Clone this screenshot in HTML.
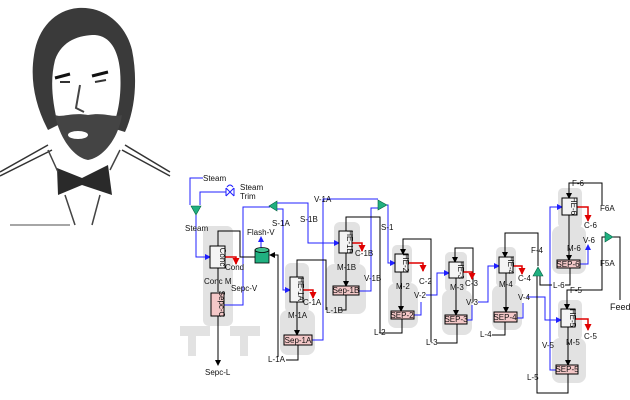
<!DOCTYPE html>
<html><head><meta charset="utf-8"><style>
html,body{margin:0;padding:0;background:#fff;}
svg{display:block;}
text{font-family:"Liberation Sans",sans-serif;font-size:8px;fill:#111;}
</style></head><body>
<svg width="630" height="400" viewBox="0 0 630 400" xmlns="http://www.w3.org/2000/svg">
<defs>
<marker id="ab" markerWidth="6" markerHeight="6" refX="5" refY="3" orient="auto" markerUnits="userSpaceOnUse"><path d="M0,0L6,3L0,6z" fill="#000"/></marker>
<marker id="au" markerWidth="6" markerHeight="6" refX="5" refY="3" orient="auto" markerUnits="userSpaceOnUse"><path d="M0,0L6,3L0,6z" fill="#2020ff"/></marker>
<marker id="ar" markerWidth="7" markerHeight="7" refX="6" refY="3.5" orient="auto" markerUnits="userSpaceOnUse"><path d="M0,0L7,3.5L0,7z" fill="#e00000"/></marker>
</defs>

<!-- Portrait -->
<g>
<path d="M0,172 L48,145 M0,176 L52,150 M170,172 L125,145 M170,176 L122,150" stroke="#333" stroke-width="1.5" fill="none"/>
<path d="M78,8 C55,10 38,28 34,55 C30,80 35,105 48,130 L58,125 C52,100 50,80 55,60 C62,40 80,35 95,35 C110,36 118,50 120,70 C122,95 118,115 112,128 L125,132 C135,110 138,80 132,50 C126,25 105,6 78,8z" fill="#3a3a3a"/>
<path d="M55,115 C60,140 75,158 88,160 C102,158 118,140 122,115 C112,118 105,112 88,115 C72,112 62,118 55,115z" fill="#444"/>
<ellipse cx="78" cy="135" rx="10" ry="4" fill="#fff"/>
<path d="M55,78 L70,74 M92,76 L108,72" stroke="#111" stroke-width="3"/>
<path d="M60,82 L70,82 M95,82 L106,80" stroke="#333" stroke-width="2"/>
<path d="M80,85 L76,108 L84,112" stroke="#444" stroke-width="2" fill="none"/>
<path d="M57,168 L82,178 L108,165 L112,195 L82,185 L58,195z" fill="#2a2a2a"/>
<path d="M48,150 L58,172 M120,150 L110,170 M65,195 L75,225 M100,195 L92,225" stroke="#444" stroke-width="1.5" fill="none"/>
<path d="M10,225 L70,225" stroke="#888" stroke-width="1.5"/>
</g>

<!-- gray silhouettes -->
<g fill="#e2e2e2">
<rect x="203" y="226" width="30" height="100" rx="6"/>
<rect x="180" y="326" width="30" height="10"/><rect x="230" y="326" width="30" height="10"/>
<rect x="188" y="336" width="8" height="20"/><rect x="240" y="336" width="8" height="20"/>
<rect x="285" y="263" width="24" height="50" rx="6"/><rect x="280" y="310" width="35" height="45" rx="8"/>
<rect x="334" y="222" width="26" height="45" rx="6"/><rect x="326" y="264" width="40" height="50" rx="8"/>
<rect x="392" y="245" width="20" height="40" rx="5"/><rect x="388" y="283" width="30" height="45" rx="8"/>
<rect x="445" y="252" width="22" height="40" rx="5"/><rect x="442" y="290" width="30" height="45" rx="8"/>
<rect x="496" y="247" width="20" height="40" rx="5"/><rect x="492" y="285" width="30" height="45" rx="8"/>
<rect x="558" y="188" width="24" height="40" rx="5"/><rect x="552" y="226" width="34" height="48" rx="8"/>
<rect x="558" y="300" width="24" height="40" rx="5"/><rect x="552" y="338" width="34" height="45" rx="8"/>
</g>

<!-- blue streams -->
<g stroke="#2020ff" stroke-width="1" fill="none">
<path d="M203,178 H190 V205"/>
<path d="M226,192 H200 V205"/>
<path d="M196,215 V257 H210" marker-end="url(#au)"/>
<path d="M224,305 H243 V207 H270"/>
<path d="M277,203 H308 V243 H339" marker-end="url(#au)"/>
<path d="M276,209 H283 V290 H290" marker-end="url(#au)"/>
<path d="M312,340 H323 V199 H378"/>
<path d="M359,291 H371 V208 H378"/>
<path d="M387,205 H388 V263 H395" marker-end="url(#au)"/>
<path d="M261,248 V237" marker-end="url(#au)"/>
<path d="M414,315 H421 V302"/>
<path d="M426,295 H437 V273 H449" marker-end="url(#au)"/>
<path d="M467,320 H472 V305"/>
<path d="M478,302 H488 V266 H499" marker-end="url(#au)"/>
<path d="M517,318 H523 V303"/>
<path d="M527,297 H545 V320 H561" marker-end="url(#au)"/>
<path d="M556,370 H550 V207 H562" marker-end="url(#au)"/>
<path d="M580,264 H588 V245" marker-end="url(#au)"/>
</g>

<!-- black streams -->
<g stroke="#000" stroke-width="1" fill="none">
<path d="M218,246 V231 H240 V257 H255"/>
<path d="M218,268 V292"/>
<path d="M218,316 V365" marker-end="url(#ab)"/>
<path d="M278,357 V255 H270" marker-end="url(#ab)"/>
<path d="M297,302 V335" marker-end="url(#ab)"/>
<path d="M298,345 V360 H286"/>
<path d="M297,277 V260 H326 V310"/>
<path d="M346,253 V286" marker-end="url(#ab)"/>
<path d="M346,295 V310 H338"/>
<path d="M346,231 V217 H380 V333 H390"/>
<path d="M402,319 V333 H390"/>
<path d="M401,272 V311" marker-end="url(#ab)"/>
<path d="M431,342 V239 H403 V254" marker-end="url(#ab)"/>
<path d="M457,324 V343 H437"/>
<path d="M456,278 V315" marker-end="url(#ab)"/>
<path d="M473,302 V248 H455 V262" marker-end="url(#ab)"/>
<path d="M505,322 V335 H492"/>
<path d="M506,273 V312" marker-end="url(#ab)"/>
<path d="M538,266 V233 H505 V257" marker-end="url(#ab)"/>
<path d="M537,275 V393 H568 V374"/>
<path d="M540,275 V285 H552"/>
<path d="M565,285 H570 V268"/>
<path d="M569,215 V260" marker-end="url(#ab)"/>
<path d="M602,205 V183 H569 V198" marker-end="url(#ab)"/>
<path d="M613,237 H620 V300"/>
<path d="M605,237 H602 V290 H567 V309" marker-end="url(#ab)"/>
<path d="M568,327 V365" marker-end="url(#ab)"/>
</g>

<!-- red -->
<g stroke="#e00000" stroke-width="1.5" fill="none">
<path d="M225,257 H236 V264" marker-end="url(#ar)"/>
<path d="M303,290 H313 V298" marker-end="url(#ar)"/>
<path d="M352,243 H362 V251" marker-end="url(#ar)"/>
<path d="M408,263 H423 V271" marker-end="url(#ar)"/>
<path d="M463,272 H472 V279" marker-end="url(#ar)"/>
<path d="M513,266 H522 V274" marker-end="url(#ar)"/>
<path d="M577,207 H588 V221" marker-end="url(#ar)"/>
<path d="M575,319 H588 V330" marker-end="url(#ar)"/>
</g>

<!-- valve -->
<path d="M226,188 L234,196 M234,188 L226,196 M226,188 V196 M234,188 V196" stroke="#2020ff" stroke-width="1"/>
<path d="M227,187 Q230,183 233,187" stroke="#2020ff" fill="none"/>

<!-- triangles -->
<g fill="#20b080" stroke="#006040" stroke-width="0.6">
<path d="M191,206 L201,206 L196,215z"/>
<path d="M277,201 L277,211 L269,206z"/>
<path d="M378,200 L378,210 L387,205z"/>
<path d="M533,276 L543,276 L538,267z"/>
<path d="M605,232 L605,242 L613,237z"/>
</g>
<!-- flash drum -->
<rect x="255" y="250" width="14" height="13" fill="#20b080" stroke="#000" stroke-width="0.8"/>
<ellipse cx="262" cy="250" rx="7" ry="2.5" fill="#40c090" stroke="#000" stroke-width="0.8"/>

<!-- HE boxes -->
<g fill="#f4f4f4" stroke="#000" stroke-width="1">
<rect x="210" y="246" width="15" height="22"/>
<rect x="290" y="277" width="13" height="25"/>
<rect x="339" y="231" width="13" height="22"/>
<rect x="395" y="254" width="13" height="18"/>
<rect x="449" y="262" width="14" height="16"/>
<rect x="499" y="257" width="14" height="16"/>
<rect x="562" y="198" width="15" height="17"/>
<rect x="561" y="309" width="14" height="18"/>
</g>
<!-- sep boxes -->
<g fill="#f4c8c8" stroke="#000" stroke-width="1">
<rect x="211" y="293" width="13" height="23"/>
<rect x="284" y="335" width="28" height="10"/>
<rect x="333" y="286" width="26" height="9"/>
<rect x="391" y="311" width="23" height="8"/>
<rect x="445" y="315" width="22" height="9"/>
<rect x="494" y="312" width="23" height="10"/>
<rect x="557" y="260" width="23" height="8"/>
<rect x="556" y="365" width="22" height="9"/>
</g>
<g style="font-size:6px">
<text x="0" y="0" transform="translate(220,257) rotate(90)" text-anchor="middle">Conc</text>
<text x="0" y="0" transform="translate(219,304) rotate(90)" text-anchor="middle">Sepc-C</text>
<text x="0" y="0" transform="translate(298,289) rotate(90)" text-anchor="middle">HE-1A</text>
<text x="0" y="0" transform="translate(347,242) rotate(90)" text-anchor="middle">HE-1B</text>
<text x="0" y="0" transform="translate(403,263) rotate(90)" text-anchor="middle">HE-2</text>
<text x="0" y="0" transform="translate(458,270) rotate(90)" text-anchor="middle">HE-3</text>
<text x="0" y="0" transform="translate(508,265) rotate(90)" text-anchor="middle">HE-4</text>
<text x="0" y="0" transform="translate(571,206) rotate(90)" text-anchor="middle">HE-6</text>
<text x="0" y="0" transform="translate(570,318) rotate(90)" text-anchor="middle">HE-5</text>
</g>
<g style="font-size:7px" text-anchor="middle">
<text x="298" y="343">Sep-1A</text>
<text x="346" y="293">Sep-1B</text>
<text x="402" y="318">SEP-2</text>
<text x="456" y="322">SEP-3</text>
<text x="505" y="320">SEP-4</text>
<text x="568" y="267">SEP-6</text>
<text x="567" y="372">SEP-5</text>
</g>

<!-- labels -->
<g>
<text x="203" y="181">Steam</text>
<text x="240" y="190">Steam</text>
<text x="240" y="199">Trim</text>
<text x="185" y="231">Steam</text>
<text x="247" y="235">Flash-V</text>
<text x="272" y="226">S-1A</text>
<text x="300" y="222">S-1B</text>
<text x="314" y="202">V-1A</text>
<text x="381" y="230">S-1</text>
<text x="225" y="270">Cond</text>
<text x="204" y="284">Conc M</text>
<text x="231" y="291">Sepc-V</text>
<text x="205" y="375">Sepc-L</text>
<text x="303" y="305">C-1A</text>
<text x="288" y="318">M-1A</text>
<text x="268" y="362">L-1A</text>
<text x="355" y="256">C-1B</text>
<text x="337" y="270">M-1B</text>
<text x="364" y="281">V-1B</text>
<text x="326" y="313">L-1B</text>
<text x="374" y="335">L-2</text>
<text x="396" y="289">M-2</text>
<text x="419" y="284">C-2</text>
<text x="414" y="298">V-2</text>
<text x="426" y="345">L-3</text>
<text x="450" y="290">M-3</text>
<text x="465" y="286">C-3</text>
<text x="466" y="305">V-3</text>
<text x="480" y="337">L-4</text>
<text x="499" y="287">M-4</text>
<text x="518" y="281">C-4</text>
<text x="518" y="300">V-4</text>
<text x="531" y="253">F-4</text>
<text x="553" y="288">L-6</text>
<text x="567" y="251">M-6</text>
<text x="584" y="228">C-6</text>
<text x="583" y="243">V-6</text>
<text x="572" y="186">F-6</text>
<text x="600" y="211">F6A</text>
<text x="600" y="266">F5A</text>
<text x="570" y="293">F-5</text>
<text x="610" y="310" style="font-size:9px">Feed</text>
<text x="584" y="339">C-5</text>
<text x="566" y="345">M-5</text>
<text x="542" y="348">V-5</text>
<text x="527" y="380">L-5</text>
</g>
</svg>
</body></html>
